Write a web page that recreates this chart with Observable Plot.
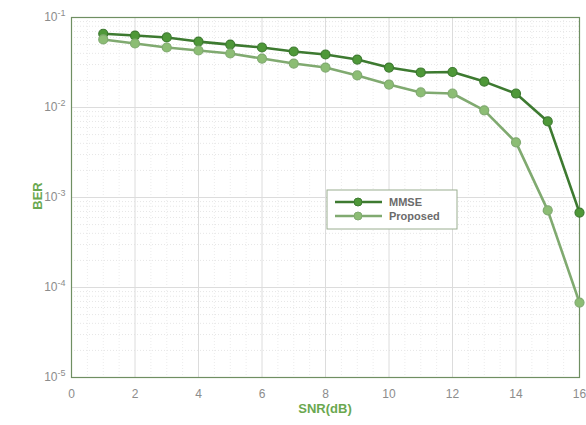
<!DOCTYPE html>
<html><head><meta charset="utf-8">
<script src="https://cdn.jsdelivr.net/npm/d3@7"></script>
<script src="https://cdn.jsdelivr.net/npm/@observablehq/plot@0.6"></script>
<style>
body{margin:0;background:#fff;}
#c{position:relative;width:586px;height:425px;}
svg{font-family:"Liberation Sans",Arial,sans-serif;}
</style></head><body><div id="c"></div>
<script>
const snr = [1,2,3,4,5,6,7,8,9,10,11,12,13,14,15,16];
const mmse = [0.066,0.063,0.060,0.054,0.050,0.0464,0.0419,0.0388,0.0341,0.0278,0.0245,0.0248,0.0194,0.0143,0.0070,0.00068];
const proposed = [0.057,0.0514,0.0464,0.043,0.0398,0.035,0.0308,0.0278,0.0227,0.018,0.0147,0.0143,0.0093,0.0041,0.00072,0.000068];
const xTicks = [0,2,4,6,8,10,12,14,16];
const yTicks = [1e-5,1e-4,1e-3,1e-2,1e-1];
const yTickExp = ["-5","-4","-3","-2","-1"];
const seriesNames = ["MMSE","Proposed"];

const data = [];
snr.forEach((s,i)=>{data.push({snr:s,ber:mmse[i],series:"MMSE"});data.push({snr:s,ber:proposed[i],series:"Proposed"});});

const lineColor = {MMSE:"#3d7a30", Proposed:"#80aa70"};
const dotColor = {MMSE:"#4e9838", Proposed:"#8cbd74"};

const minorY = [];
for (let e=-5;e<-1;e++) for (let m=2;m<10;m++) minorY.push(m*Math.pow(10,e));
const minorX = d3.range(0.5,16,0.5).filter(v=>v%2!==0);

const plot = Plot.plot({
  width:586, height:425,
  marginLeft:71, marginRight:7, marginTop:17, marginBottom:48,
  x:{domain:[0,16]},
  y:{type:"log", domain:[1e-5,1e-1]},
  style:{fontFamily:"Liberation Sans, Arial, sans-serif"},
  marks:[
    Plot.ruleY(minorY,{stroke:"#e6e6e6",strokeWidth:1,strokeDasharray:"1,2"}),
    Plot.ruleX(minorX,{stroke:"#ececec",strokeWidth:1,strokeDasharray:"1,2"}),
    Plot.ruleY(yTicks,{stroke:"#dcdcdc"}),
    Plot.ruleX(xTicks,{stroke:"#dcdcdc"}),
    Plot.frame({stroke:"#6f8f62",strokeWidth:1.2}),
    Plot.axisX({ticks:xTicks,tickSize:0,tickPadding:12,fontSize:12,fill:"#8c8c8c",label:null}),
    Plot.axisY({ticks:yTicks,tickSize:0,tickPadding:6,fontSize:12,fill:"#8c8c8c",tickFormat:(d)=>"10|"+yTickExp[yTicks.indexOf(d)],label:null}),
    Plot.line(data,{x:"snr",y:"ber",z:"series",stroke:d=>lineColor[d.series],strokeWidth:2.6}),
    Plot.dot(data,{x:"snr",y:"ber",r:4.5,fill:d=>dotColor[d.series],stroke:d=>lineColor[d.series],strokeWidth:1.2})
  ]
});
const svg = d3.select(plot);
svg.selectAll("text").each(function(){
  const t = d3.select(this);
  const s = t.text();
  if (s.startsWith("10|")) {
    const exp = s.slice(3);
    t.text("");
    t.append("tspan").text("10");
    t.append("tspan").attr("dy","-5").attr("font-size",9).text(exp);
  }
});
svg.append("text").attr("x",325).attr("y",413).attr("text-anchor","middle")
  .attr("font-size",13).attr("font-weight","bold").attr("fill","#6aa84f").text("SNR(dB)");
svg.append("text").attr("transform","translate(42,196) rotate(-90)").attr("text-anchor","middle")
  .attr("font-size",13).attr("font-weight","bold").attr("fill","#6aa84f").text("BER");
// legend
const lg = svg.append("g").attr("transform","translate(327,190)");
lg.append("rect").attr("width",130).attr("height",39).attr("fill","#fff").attr("stroke","#9aae90");
seriesNames.forEach((n,i)=>{
  const yy = 12 + i*14;
  lg.append("line").attr("x1",8).attr("x2",55).attr("y1",yy).attr("y2",yy).attr("stroke",lineColor[n]).attr("stroke-width",2.6);
  lg.append("circle").attr("cx",31).attr("cy",yy).attr("r",4).attr("fill",dotColor[n]).attr("stroke",lineColor[n]);
  lg.append("text").attr("x",62).attr("y",yy+4).attr("text-anchor","start").attr("font-size",11).attr("font-weight","bold").attr("fill","#6b6b6b").text(n);
});
document.getElementById("c").appendChild(plot);
</script></body></html>
